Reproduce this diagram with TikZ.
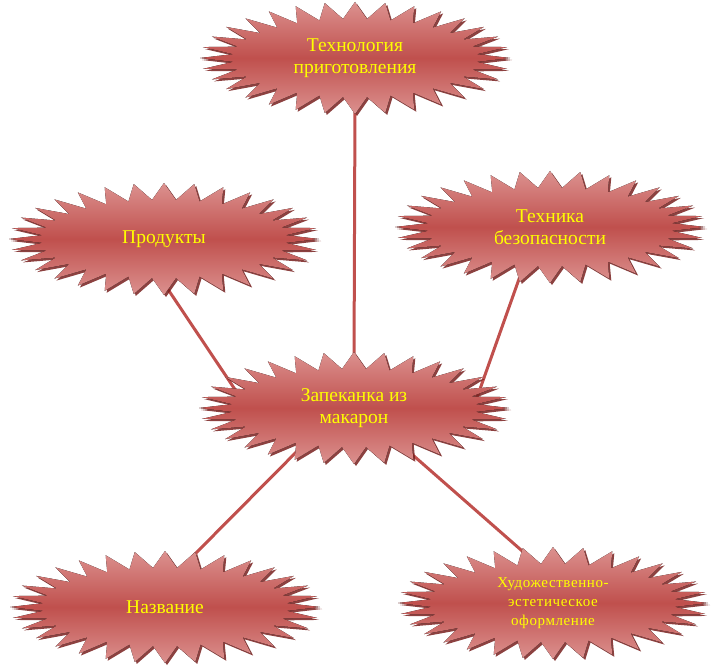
\documentclass[tikz,border=0pt]{standalone}
\usepackage{fontspec}
\setmainfont{Liberation Serif}
\usepackage{tikz}
\usetikzlibrary{shapes.geometric}

\definecolor{burstmid}{RGB}{192,80,77}
\definecolor{burstlight}{RGB}{220,145,143}
\definecolor{burstdark}{RGB}{120,32,30}
\definecolor{burstyellow}{RGB}{255,255,0}

\pgfdeclarelayer{lines}
\pgfdeclarelayer{stars}
\pgfsetlayers{lines,stars,main}

\tikzset{
    bursttext/.style={shape=ellipse, minimum width=240pt, minimum height=80pt, inner sep=0pt,
        text=burstyellow, align=center, font=\fontsize{19.5}{22}\selectfont},
    burst/.style={insert path={plot[variable=\k, samples at={0,...,63}]
        ({155*(1-0.21*mod(\k,2))*cos(\k*5.625)}, {56*(1-0.3*mod(\k,2))*sin(\k*5.625)}) -- cycle}},
    link/.style={draw=burstmid, line width=3pt},
}

\begin{document}
\begin{tikzpicture}[x=1pt,y=-1pt]
    \useasboundingbox (0,0) rectangle (715,666);

    \node [bursttext] (top) at (355,58) {Технология\\приготовления};
    \node [bursttext] (prod) at (164,239) {Продукты};
    \node [bursttext] (tech) at (550,227) {Техника\\безопасности};
    \node [bursttext] (mid) at (354,408) {Запеканка из\\макарон};
    \node [bursttext] (title) at (165,607) {Название};
    \node [bursttext, font=\fontsize{15}{19}\selectfont\addfontfeatures{LetterSpace=4}] (art) at (553,603)
        {Художественно-\\эстетическое\\оформление};

    % stars behind the texts
    \begin{pgfonlayer}{stars}
    \foreach \nm in {top,prod,tech,mid,title,art}{
        \begin{scope}[shift={(\nm.center)}]
            \fill [burstdark, opacity=0.85, shift={(2,2)}, burst];
            \fill [top color=burstlight, bottom color=burstlight, middle color=burstmid, burst];
        \end{scope}
    }
    \end{pgfonlayer}

    \begin{pgfonlayer}{lines}
    \draw [link] (top.south) -- (mid.north);
    \draw [link] (prod.-94) -- (mid.174);
    \draw [link] (tech.-124) -- (mid.1.5);
    \draw [link] (title.67) -- (mid.-144);
    \draw [link] (art.113) -- (mid.-38);
    \end{pgfonlayer}
\end{tikzpicture}
\end{document}
